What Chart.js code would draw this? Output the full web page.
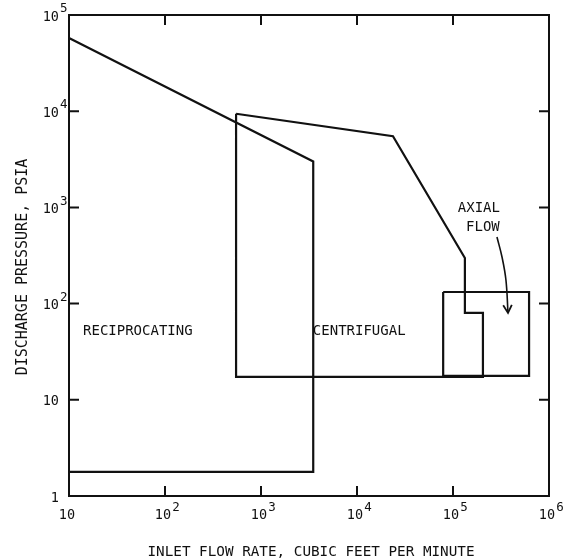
<!DOCTYPE html>
<html>
<head>
<meta charset="utf-8">
<script src="https://cdn.jsdelivr.net/npm/chart.js@4/dist/chart.umd.min.js"></script>
<style>
  html, body { margin: 0; padding: 0; background: #fff; }
  #wrap { width: 569px; height: 560px; position: relative; }
</style>
</head>
<body>
<div id="wrap"><canvas id="c"></canvas></div>
<script>
// ---- data ----
const recipX = [10, 3500, 3500, 10];
const recipY = [57700, 3000, 1.78, 1.78];

const centX = [550, 23700, 133000, 133000, 205000, 205000, 550, 550];
const centY = [9400, 5500, 298, 80, 80, 17.3, 17.3, 9400];

const axialX = [79000, 620000, 620000, 79000, 79000];
const axialY = [132, 132, 17.7, 17.7, 132];

const arrowX = [287000, 324000, 356000, 374000];
const arrowY = [492, 305, 176, 80];

const xTickValues = [10, 100, 1000, 10000, 100000, 1000000];
const xTickBase = ['10', '10', '10', '10', '10', '10'];
const xTickExp = ['', '2', '3', '4', '5', '6'];

const yTickValues = [1, 10, 100, 1000, 10000, 100000];
const yTickBase = ['1', '10', '10', '10', '10', '10'];
const yTickExp = ['', '', '2', '3', '4', '5'];

const xTitle = 'INLET FLOW RATE, CUBIC FEET PER MINUTE';
const yTitle = 'DISCHARGE PRESSURE, PSIA';

const regionLabels = ['RECIPROCATING', 'CENTRIFUGAL', 'AXIAL', 'FLOW'];
const regionLabelX = [14, 3470, 186000, 205000];
const regionLabelY = [51, 51, 986, 625];

function pts(xs, ys) { return xs.map((x, i) => ({ x: x, y: ys[i] })); }

const INK = '#111';
const MONO = '"DejaVu Sans Mono", "Liberation Mono", monospace';

const decorPlugin = {
  id: 'decor',
  afterDraw(chart) {
    const ctx = chart.ctx;
    const xs = chart.scales.x, ys = chart.scales.y;
    const a = chart.chartArea;
    ctx.save();
    // frame
    ctx.strokeStyle = INK;
    ctx.lineWidth = 2;
    ctx.strokeRect(a.left, a.top, a.right - a.left, a.bottom - a.top);
    // inward ticks
    const tl = 10;
    ctx.beginPath();
    xTickValues.forEach(v => {
      const px = xs.getPixelForValue(v);
      if (px <= a.left + 1 || px >= a.right - 1) return;
      ctx.moveTo(px, a.bottom); ctx.lineTo(px, a.bottom - tl);
      ctx.moveTo(px, a.top); ctx.lineTo(px, a.top + tl);
    });
    yTickValues.forEach(v => {
      const py = ys.getPixelForValue(v);
      if (py <= a.top + 1 || py >= a.bottom - 1) return;
      ctx.moveTo(a.left, py); ctx.lineTo(a.left + tl, py);
      ctx.moveTo(a.right, py); ctx.lineTo(a.right - tl, py);
    });
    ctx.stroke();

    ctx.fillStyle = INK;
    // x tick labels
    xTickValues.forEach((v, i) => {
      const px = xs.getPixelForValue(v);
      ctx.font = '13.5px ' + MONO;
      ctx.textAlign = 'center';
      ctx.textBaseline = 'middle';
      const bx = px - 2;
      ctx.fillText(xTickBase[i], bx, a.bottom + 19);
      if (xTickExp[i]) {
        const w = ctx.measureText(xTickBase[i]).width;
        ctx.font = '12.5px ' + MONO;
        ctx.textAlign = 'left';
        ctx.fillText(xTickExp[i], bx + w / 2 + 1, a.bottom + 12);
      }
    });
    // y tick labels
    yTickValues.forEach((v, i) => {
      const py = ys.getPixelForValue(v);
      ctx.font = '13.5px ' + MONO;
      ctx.textAlign = 'right';
      ctx.textBaseline = 'middle';
      ctx.fillText(yTickBase[i], a.left - 10, py + 2);
      if (yTickExp[i]) {
        ctx.font = '12.5px ' + MONO;
        ctx.textAlign = 'left';
        ctx.fillText(yTickExp[i], a.left - 9, py - 6);
      }
    });
    // axis titles
    ctx.font = '14.3px ' + MONO;
    ctx.textAlign = 'center';
    ctx.textBaseline = 'middle';
    ctx.fillText(xTitle, 311, 552);
    ctx.save();
    ctx.translate(23, 267);
    ctx.rotate(-Math.PI / 2);
    ctx.font = '15px ' + MONO;
    ctx.fillText(yTitle, 0, 0);
    ctx.restore();
    // region labels
    ctx.font = '14px ' + MONO;
    regionLabels.forEach((t, i) => {
      ctx.textAlign = i < 2 ? 'left' : 'center';
      ctx.fillText(t, xs.getPixelForValue(regionLabelX[i]), ys.getPixelForValue(regionLabelY[i]));
    });
    // arrowhead at end of arrow curve
    const n = arrowX.length;
    const ex = xs.getPixelForValue(arrowX[n - 1]), ey = ys.getPixelForValue(arrowY[n - 1]);
    const sx = xs.getPixelForValue(arrowX[n - 2]), sy = ys.getPixelForValue(arrowY[n - 2]);
    const ang = Math.atan2(ey - sy, ex - sx);
    const L = 9, h = 0.5;
    ctx.lineWidth = 1.8;
    ctx.beginPath();
    ctx.moveTo(ex - L * Math.cos(ang - h), ey - L * Math.sin(ang - h));
    ctx.lineTo(ex, ey);
    ctx.lineTo(ex - L * Math.cos(ang + h), ey - L * Math.sin(ang + h));
    ctx.stroke();
    ctx.restore();
  }
};

const lineStyle = { borderColor: INK, borderWidth: 2.2, pointRadius: 0, fill: false, tension: 0, showLine: true };

new Chart(document.getElementById('c'), {
  type: 'scatter',
  data: {
    datasets: [
      Object.assign({ label: 'Reciprocating', data: pts(recipX, recipY) }, lineStyle),
      Object.assign({ label: 'Centrifugal', data: pts(centX, centY) }, lineStyle),
      Object.assign({ label: 'Axial flow', data: pts(axialX, axialY) }, lineStyle),
      Object.assign({ label: 'Arrow', data: pts(arrowX, arrowY) }, lineStyle, { borderWidth: 1.6, tension: 0.4 })
    ]
  },
  options: {
    responsive: true,
    maintainAspectRatio: false,
    animation: false,
    events: [],
    layout: { padding: { left: 69, right: 20, top: 15, bottom: 64 } },
    plugins: { legend: { display: false }, tooltip: { enabled: false } },
    scales: {
      x: { type: 'logarithmic', min: 10, max: 1000000, display: false },
      y: { type: 'logarithmic', min: 1, max: 100000, display: false }
    },
    elements: { line: { borderCapStyle: 'butt', borderJoinStyle: 'miter' } }
  },
  plugins: [decorPlugin]
});
</script>
</body>
</html>
